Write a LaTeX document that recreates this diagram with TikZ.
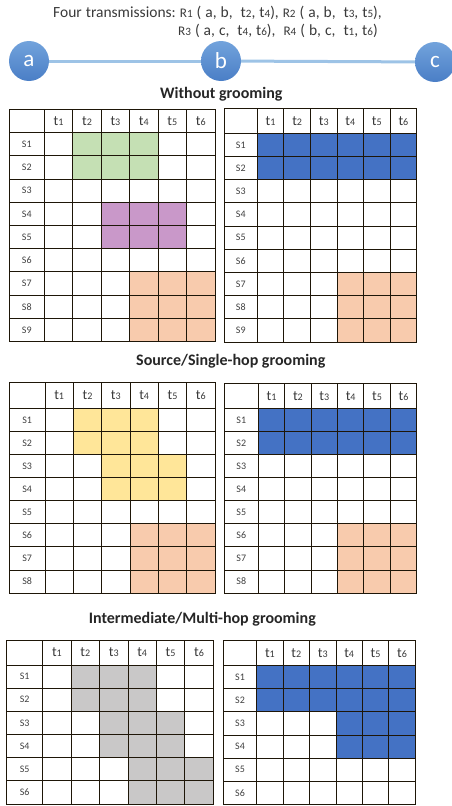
\documentclass[tikz,border=0pt]{standalone}
\usepackage{fontspec}
\setmainfont{Carlito}
\usepackage{graphicx}
\usetikzlibrary{backgrounds}
\definecolor{gridc}{HTML}{1E1608}
\definecolor{txtc}{HTML}{3A3A3A}
\definecolor{lblc}{HTML}{404040}
\definecolor{cgreen}{HTML}{C5E0B4}
\definecolor{cpurple}{HTML}{C998C9}
\definecolor{cpeach}{HTML}{F8CBAD}
\definecolor{cblue}{HTML}{4472C4}
\definecolor{cyellow}{HTML}{FFE699}
\definecolor{cgray}{HTML}{C9C8C8}
\definecolor{nodetop}{HTML}{72A3DC}
\definecolor{nodebot}{HTML}{4A7EC6}
\definecolor{linkc}{HTML}{9DC3E6}
\newcommand\dg[1]{\scalebox{0.72}{#1}}
\newcommand\rr[1]{\scalebox{0.85}{R}\dg{#1}}
\newcommand\wsp{\spaceskip=4.0pt plus 1pt\xspaceskip=4.0pt plus 1pt}
\tikzset{
  gridline/.style={draw=gridc, line width=0.9pt},
  hdr/.style={font=\fontsize{14}{14}\selectfont, text=txtc, inner sep=0pt},
  rowlab/.style={font=\fontsize{10}{10}\selectfont, text=lblc, inner sep=0pt},
  vertex/.style={circle, minimum size=40pt, inner sep=0pt, top color=nodetop, bottom color=nodebot, draw=none, text=white, font=\fontsize{23}{23}\selectfont},
  link/.style={draw=linkc, line width=3pt},
  titletext/.style={font=\fontsize{15.5}{18}\selectfont\wsp, text=txtc, inner sep=0pt, anchor=base west},
  sectitle/.style={anchor=base west, inner sep=0pt, text=black!85},
}
% #1 name, #2 x left, #3 x end of first column, #4 column width,
% #5 y top, #6 y end of header, #7 row height, #8 rows, #9 fills
\newcommand\mktable[9]{%
  \pgfmathsetmacro\xe{#3+6*#4}%
  \pgfmathsetmacro\ye{#6+#8*#7}%
  \foreach \ra/\rb/\ca/\cb/\cc in {#9}{%
    \fill[fill=\cc] ({#3+(\ca-1)*#4},{#6+(\ra-1)*#7}) rectangle ({#3+\cb*#4},{#6+\rb*#7});
  }%
  \foreach \j in {0,...,5}{\draw[gridline] ({#3+\j*#4},#5) -- ({#3+\j*#4},\ye);}%
  \foreach \i in {0,...,#8}{\draw[gridline] (#2,{#6+\i*#7}) -- (\xe,{#6+\i*#7});}%
  \draw[gridline] (#2,#5) rectangle (\xe,\ye);
  \foreach \j in {1,...,6}{\node[hdr] (#1-t\j) at ({#3+(\j-0.5)*#4},{(#5+#6)/2}) {t\dg{\j}};}%
  \foreach \i in {1,...,#8}{\node[rowlab] (#1-s\i) at ({(#2+#3)/2},{#6+(\i-0.5)*#7}) {S\i};}%
}
\begin{document}
\begin{tikzpicture}[x=1pt,y=-1pt]
\useasboundingbox (0,0) rectangle (452,806);
\clip (0,0) rectangle (452,806);
% title
\node[titletext] (title1) at (53,17) {Four transmissions: \rr{1} ( a, b,\ \ t\dg{2}, t\dg{4}), \rr{2} ( a, b,\ \ t\dg{3}, t\dg{5}),};
\node[titletext] (title2) at (178,35) {\rr{3} ( a, c,\ \ t\dg{4}, t\dg{6}),\ \ \rr{4} ( b, c,\ \ t\dg{1}, t\dg{6})};
% network
\node[vertex] (a) at (29,61) {a};
\node[vertex] (b) at (221,61) {b};
\node[vertex] (c) at (435,62) {c};
\begin{scope}[on background layer]
\draw[link] (a) -- (b);
\draw[link] (b) -- (c);
\end{scope}
% section titles
\node[sectitle, font=\bfseries\fontsize{16}{16}\selectfont] (sec1) at (160,98) {Without grooming};
\node[sectitle, font=\bfseries\fontsize{16}{16}\selectfont] (sec2) at (136,365) {Source/Single-hop grooming};
\node[sectitle, font=\bfseries\fontsize{16}{16}\selectfont, anchor=base east] (sec3) at (316,623) {Intermediate/Multi-hop grooming};
% tables
\mktable{A1}{9.3}{44.3}{28.45}{109.3}{132.7}{23.2}{9}{1/2/2/4/cgreen,4/5/3/5/cpurple,7/9/4/6/cpeach}
\mktable{B1}{224.3}{257.3}{26.57}{108.3}{133.3}{23.2}{9}{1/2/1/6/cblue,7/9/4/6/cpeach}
\mktable{A2}{9.3}{45}{28.33}{382.7}{408.3}{23.1}{8}{1/2/2/4/cyellow,3/4/3/5/cyellow,6/8/4/6/cpeach}
\mktable{B2}{224.3}{258.3}{26.4}{383.3}{408.3}{23.1}{8}{1/2/1/6/cblue,6/8/4/6/cpeach}
\mktable{A3}{6.7}{42.7}{28.43}{640}{665}{23.17}{6}{1/2/2/4/cgray,3/4/3/5/cgray,5/6/4/6/cgray}
\mktable{B3}{223.3}{256.7}{26.43}{640.7}{665.7}{23.1}{6}{1/2/1/6/cblue,3/4/4/6/cblue}
\end{tikzpicture}
\end{document}
